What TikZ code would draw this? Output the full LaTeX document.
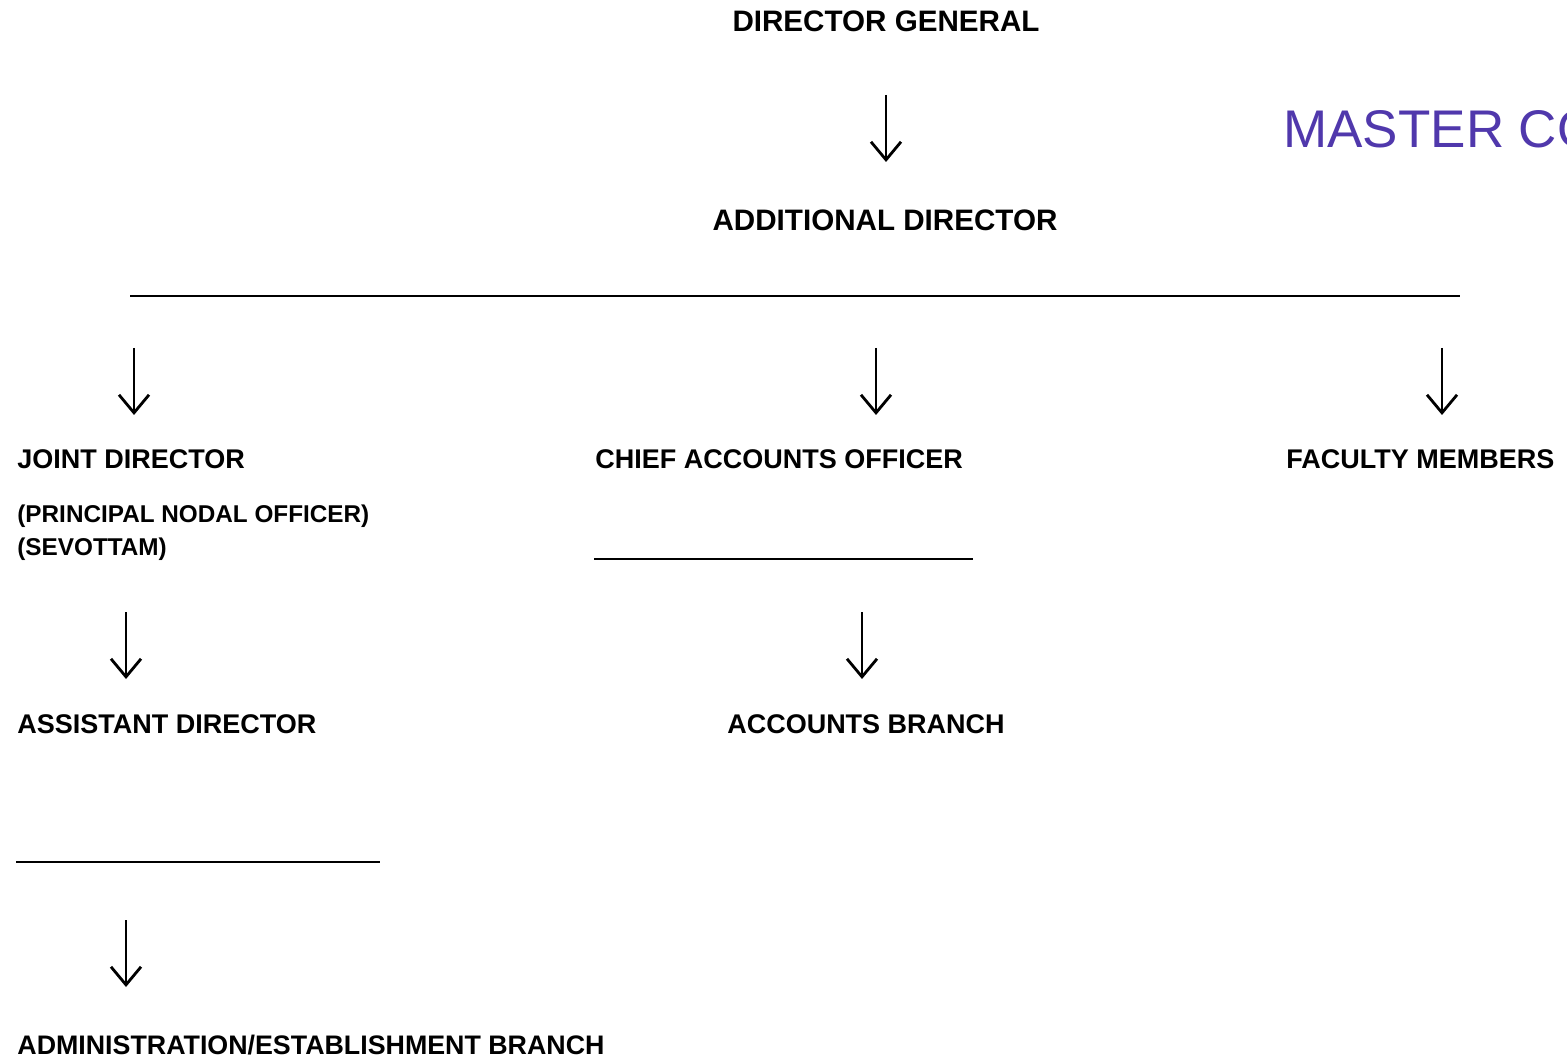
\documentclass[tikz,border=0pt]{standalone}
\usepackage{fontspec}
\setmainfont{Liberation Sans}
\usetikzlibrary{arrows.meta}
\usetikzlibrary{positioning}

\begin{document}
\begin{tikzpicture}[x=0.5pt,y=-0.5pt,
    head/.style={inner sep=0pt,font=\fontsize{14.8}{17}\selectfont\bfseries},
    lbl/.style={inner sep=0pt,font=\fontsize{13.5}{16}\selectfont\bfseries},
    sub/.style={inner sep=0pt,font=\fontsize{12.15}{14}\selectfont\bfseries},
    arr/.style={line width=1.4pt,-{Straight Barb[length=9pt,width=15pt,line width=1.4pt]}},
    rule/.style={line width=1.2pt}]
        \useasboundingbox (0,0) rectangle (1567,1058);

        \node[head,anchor=base] (dg) at (886,32) {DIRECTOR GENERAL};
        \node[head,anchor=base] (ad) at (885,231) {ADDITIONAL DIRECTOR};
        \node[anchor=base west,inner sep=0pt,text={rgb,255:red,80;green,56;blue,172},font=\fontsize{26.5}{30}\selectfont] (mc) at (1283,148) {MASTER CO};

        \node[lbl,anchor=base west] (jd) at (17,469) {JOINT DIRECTOR};
        \node[sub,anchor=base west] (pno) at (17,522) {(PRINCIPAL NODAL OFFICER)};
        \node[sub,anchor=base west] (sev) at (17,555) {(SEVOTTAM)};
        \node[lbl,anchor=base west] (cao) at (595,469) {CHIEF ACCOUNTS OFFICER};
        \node[lbl,anchor=base west] (fm) at (1286,469) {FACULTY MEMBERS};
        \node[lbl,anchor=base west] (asd) at (17,733) {ASSISTANT DIRECTOR};
        \node[lbl,anchor=base] (acb) at (866,733) {ACCOUNTS BRANCH};
        \node[lbl,anchor=base west,font=\fontsize{13.4}{16}\selectfont\bfseries] (aeb) at (17,1054) {ADMINISTRATION/ESTABLISHMENT BRANCH};

        % arrow ends
        \coordinate (a0s) at (886,95);  \coordinate (a0e) at (886,162);
        \coordinate (a1s) at (134,348); \coordinate (a1e) at (134,415);
        \coordinate (a2s) at (876,348); \coordinate (a2e) at (876,415);
        \coordinate (a3s) at (1442,348); \coordinate (a3e) at (1442,415);
        \coordinate (a4s) at (126,612); \coordinate (a4e) at (126,679);
        \coordinate (a5s) at (862,612); \coordinate (a5e) at (862,679);
        \coordinate (a6s) at (126,920); \coordinate (a6e) at (126,987);
        \foreach \i in {0,...,6}
            \draw[arr] (a\i s) -- (a\i e);

        % rules
        \coordinate (r1l) at (130,296); \coordinate (r1r) at (1460,296);
        \coordinate (r2l) at (594,559); \coordinate (r2r) at (973,559);
        \coordinate (r3l) at (16,862);  \coordinate (r3r) at (380,862);
        \draw[rule] (r1l) -- (r1r);
        \draw[rule] (r2l) -- (r2r);
        \draw[rule] (r3l) -- (r3r);
      \end{tikzpicture}
\end{document}
